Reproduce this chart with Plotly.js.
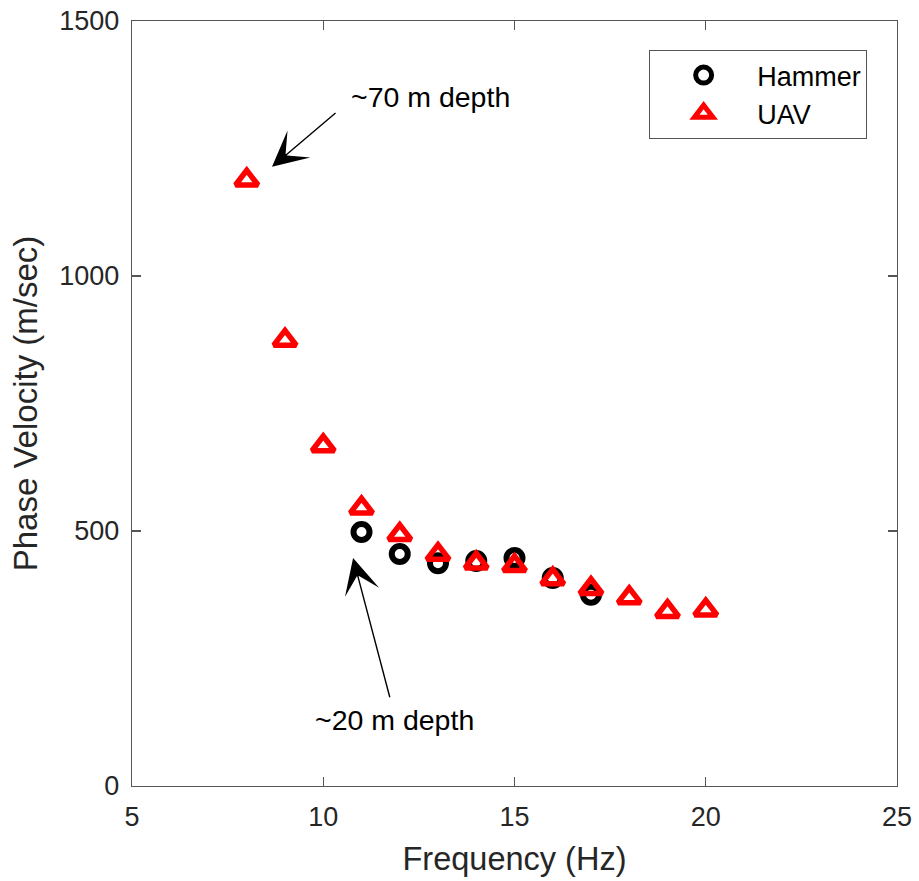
<!DOCTYPE html>
<html>
<head>
<meta charset="utf-8">
<script src="https://cdn.plot.ly/plotly-3.0.1.min.js"></script>
<style>
  html, body { margin: 0; padding: 0; background: #fff; }
  #chart { width: 919px; height: 881px; }
</style>
</head>
<body>
<div id="chart"></div>
<script>
// Dispersion curve: phase velocity vs frequency for two sources
const hammerFreq = [11, 12, 13, 14, 15, 16, 17];
const hammerVel  = [498, 455, 437, 441, 447, 408, 375];

const uavFreq = [8, 9, 10, 11, 12, 13, 14, 15, 16, 17, 18, 19, 20];
const uavVel  = [1188, 874, 667, 545, 493, 454, 437, 432, 406, 387, 369, 342, 345];

const xTicks = [5, 10, 15, 20, 25];
const yTicks = [0, 500, 1000, 1500];

const FONT = 'Liberation Sans, Arial, Helvetica, sans-serif';
const AXIS_COLOR = '#262626';

const traces = [
  {
    x: hammerFreq, y: hammerVel, name: 'Hammer',
    type: 'scatter', mode: 'markers',
    marker: { symbol: 'circle-open', size: 16, color: '#000000', line: { width: 6, color: '#000000' } }
  },
  {
    x: uavFreq, y: uavVel, name: 'UAV',
    type: 'scatter', mode: 'markers',
    marker: { symbol: 'triangle-up-open', size: 19.5, color: '#ff0000', line: { width: 5.5, color: '#ff0000' } }
  }
];

const axisCommon = {
  showgrid: false, zeroline: false,
  showline: true, linecolor: '#555555', linewidth: 1.3,
  mirror: 'ticks', ticks: 'inside', ticklen: 9, tickwidth: 1.3, tickcolor: '#555555',
  tickfont: { family: FONT, size: 27, color: AXIS_COLOR }
};

const layout = {
  width: 919, height: 881,
  margin: { l: 132, r: 22, t: 21, b: 95 },
  paper_bgcolor: '#ffffff', plot_bgcolor: '#ffffff',
  font: { family: FONT, color: AXIS_COLOR },
  showlegend: true,
  xaxis: Object.assign({}, axisCommon, {
    range: [5, 25], tickvals: xTicks, ticktext: xTicks.map(String),
    ticklabelstandoff: 6,
    title: { text: 'Frequency (Hz)', font: { family: FONT, size: 32.5, color: AXIS_COLOR }, standoff: 16 }
  }),
  yaxis: Object.assign({}, axisCommon, {
    range: [0, 1500], tickvals: yTicks, ticktext: yTicks.map(String),
    ticklabelstandoff: 6,
    title: { text: 'Phase Velocity (m/sec)', font: { family: FONT, size: 33, color: AXIS_COLOR }, standoff: 11 }
  }),
  legend: {
    x: 0.676, y: 0.962, xanchor: 'left', yanchor: 'top',
    bgcolor: '#ffffff', bordercolor: '#555555', borderwidth: 1,
    font: { family: FONT, size: 27, color: '#000000' },
    itemwidth: 97
  },
  annotations: [
    // arrow pointing at the lowest-frequency UAV pick
    { x: 8.66, y: 1214, ax: 10.36, ay: 1322, xref: 'x', yref: 'y', axref: 'x', ayref: 'y',
      text: '', showarrow: true, arrowhead: 3, arrowsize: 4.2, arrowwidth: 1.4, arrowcolor: '#000000', standoff: 0 },
    { x: 10.67, y: 1351, xref: 'x', yref: 'y', xanchor: 'left', yanchor: 'middle',
      text: '~70 m depth', showarrow: false, font: { family: FONT, size: 28.5, color: '#000000' } },
    // arrow pointing at the first Hammer pick
    { x: 10.78, y: 447, ax: 11.75, ay: 171, xref: 'x', yref: 'y', axref: 'x', ayref: 'y',
      text: '', showarrow: true, arrowhead: 3, arrowsize: 4.2, arrowwidth: 1.4, arrowcolor: '#000000', standoff: 0 },
    { x: 9.73, y: 129, xref: 'x', yref: 'y', xanchor: 'left', yanchor: 'middle',
      text: '~20 m depth', showarrow: false, font: { family: FONT, size: 28.5, color: '#000000' } }
  ]
};

Plotly.newPlot('chart', traces, layout, { displayModeBar: false, staticPlot: true });
</script>
</body>
</html>
